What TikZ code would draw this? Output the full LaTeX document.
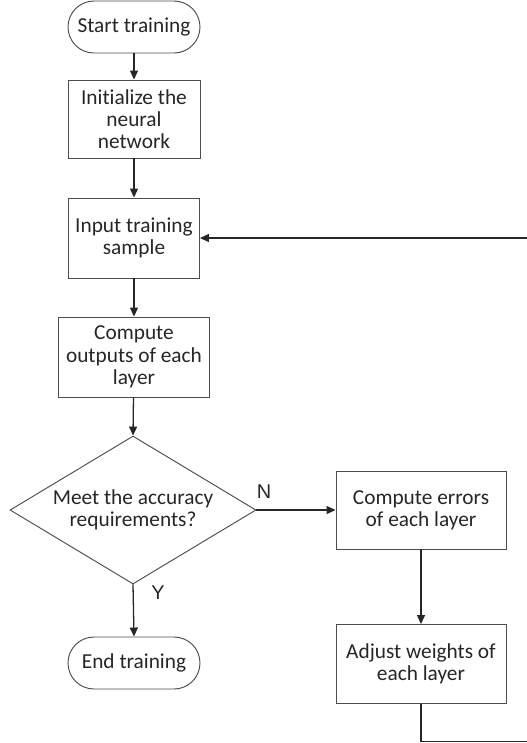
\documentclass[tikz,border=0pt]{standalone}
\usepackage{fontspec}
\setmainfont{Carlito}[Ligatures=NoCommon]
\newfontfamily\labelfont{Liberation Sans}
\usetikzlibrary{shapes.geometric, arrows.meta}

\begin{document}
\begin{tikzpicture}[x=0.03cm, y=-0.03cm,
    every node/.style={text=black!85, font=\fontsize{18.2}{19}\selectfont},
    box/.style={draw=black!70, line width=0.8pt, align=center, inner sep=2pt},
    term/.style={box, rounded corners=0.78cm, minimum width=3.96cm, minimum height=1.56cm},
    decision/.style={draw=black!70, line width=0.8pt, diamond, aspect=1.66, align=center, inner sep=0pt,
        minimum width=7.38cm, minimum height=4.44cm},
    flow/.style={draw=black!85, line width=1.1pt, -{Triangle[length=0.27cm, width=0.24cm]}},
    yn/.style={font=\labelfont\fontsize{17}{18}\selectfont, text=black!85}]
    \useasboundingbox (0,0) rectangle (527,743);

    % Main column
    \node[term] (start) at (134,27) {Start training};
    \node[box, minimum width=3.96cm, minimum height=2.34cm] (init) at (134,119) {Initialize the\\neural\\network};
    \node[box, minimum width=3.93cm, minimum height=2.4cm] (input) at (134,238) {Input training\\sample};
    \node[box, minimum width=4.53cm, minimum height=2.4cm] (outputs) at (134,357) {Compute\\outputs of each\\layer};
    \node[decision] (check) at (133,510) {Meet the accuracy\\requirements?};
    \node[term] (end) at (134,663) {End training};

    % Right column
    \node[box, minimum width=5.1cm, minimum height=2.34cm] (errors) at (421,510) {Compute errors\\of each layer};
    \node[box, minimum width=5.1cm, minimum height=2.37cm] (adjust) at (421,664) {Adjust weights of\\each layer};

    \draw[flow] (start) -- (init);
    \draw[flow] (init) -- (input);
    \draw[flow] (input) -- (outputs);
    \draw[flow] (outputs) -- (check.north);
    \draw[flow] (check.east) -- (errors.west);
    \draw[flow] (check.south) -- (end.north);
    \draw[flow] (errors) -- (adjust);

    % Loop back to the input (runs off the right edge)
    \coordinate (loopbot) at (421,741.5);
    \coordinate (loopcorner) at (560,741.5);
    \coordinate (looptop) at (560,238);
    \draw[flow] (adjust.south) -- (loopbot) -- (loopcorner) -- (looptop) -- (input.east);

    \node[yn] (nlabel) at (264,492) {N};
    \node[yn] (ylabel) at (158,593) {Y};
\end{tikzpicture}
\end{document}
